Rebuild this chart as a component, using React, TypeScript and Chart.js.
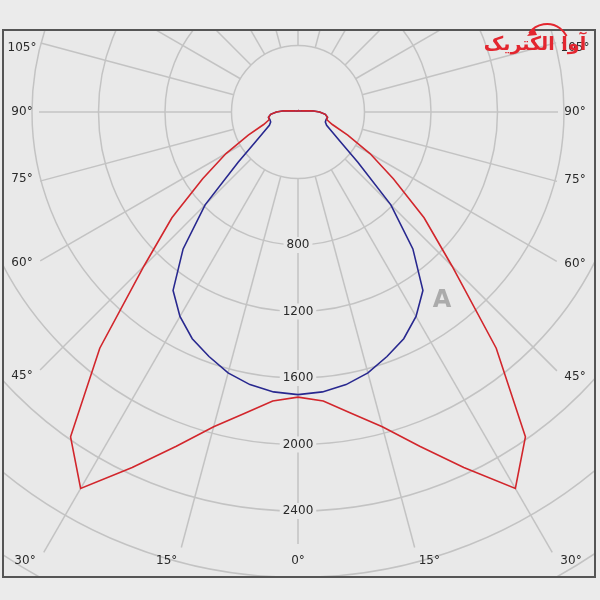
import React, { useEffect, useRef } from "react";
import { Chart, registerables } from "chart.js";

Chart.register(...registerables);

// Gamma angles (degrees, 0 = straight down) and luminous intensities (cd)
const angles = [0, 5, 10, 15, 20, 25, 30, 35, 40, 45, 50, 55, 60, 65, 70, 75, 80, 85, 90, 95, 100, 105, 110, 120, 135, 150, 165, 180];
const planeC0 = [1715, 1745, 1840, 1960, 2140, 2360, 2615, 2385, 1855, 1310, 990, 700, 500, 330, 220, 180, 180, 165, 130, 85, 40, 25, 18, 12, 9, 8, 8, 8];
const planeC90 = [1700, 1690, 1665, 1625, 1565, 1505, 1420, 1310, 1075, 790, 470, 310, 235, 190, 175, 175, 180, 165, 130, 85, 40, 25, 18, 12, 9, 8, 8, 8];

const ringValues = [400, 800, 1200, 1600, 2000, 2400, 2800, 3200, 3600];
const ringLabels = [800, 1200, 1600, 2000, 2400];
const rayAngles = [0, 15, 30, 45, 60, 75, 90, 105, 120, 135, 150, 165, 180];
const rayLabelAngles = [0, 15, 30, 45, 60, 75, 90, 105];

const RED = "#d2262c";
const BLUE = "#28288f";
const BG = "#e9e9e9";
const GRID = "#c3c3c3";
const TEXT = "#2a2a2a";

function toPoints(vals: number[]) {
  const pts: { x: number; y: number }[] = [];
  for (let i = angles.length - 1; i >= 0; i--) {
    const a = (angles[i] * Math.PI) / 180;
    pts.push({ x: -vals[i] * Math.sin(a), y: -vals[i] * Math.cos(a) });
  }
  for (let i = 1; i < angles.length; i++) {
    const a = (angles[i] * Math.PI) / 180;
    pts.push({ x: vals[i] * Math.sin(a), y: -vals[i] * Math.cos(a) });
  }
  return pts;
}

const polarGrid = {
  id: "polarGrid",
  beforeDraw(chart: any) {
    const { ctx, width, height } = chart;
    ctx.save();
    ctx.fillStyle = "#ebebeb";
    ctx.fillRect(0, 0, width, height);
    ctx.restore();
  },
  beforeDatasetsDraw(chart: any) {
    const { ctx, chartArea: area, scales } = chart;
    const sx = scales.x;
    const sy = scales.y;
    const cx = sx.getPixelForValue(0);
    const cy = sy.getPixelForValue(0);
    const k = sx.getPixelForValue(1000) - cx; // px per 1000 cd
    const rpx = (v: number) => (v / 1000) * k;

    ctx.save();
    ctx.fillStyle = BG;
    ctx.fillRect(area.left, area.top, area.right - area.left, area.bottom - area.top);
    ctx.beginPath();
    ctx.rect(area.left, area.top, area.right - area.left, area.bottom - area.top);
    ctx.clip();

    ctx.strokeStyle = GRID;
    ctx.lineWidth = 1.5;
    ringValues.forEach((v) => {
      ctx.beginPath();
      ctx.arc(cx, cy, rpx(v), 0, Math.PI * 2);
      ctx.stroke();
    });

    const box = { l: area.left + 19, r: area.right - 20, b: area.bottom - 16, t: area.top + 18 };
    const hit = (dx: number, dy: number) => {
      let t = Infinity;
      if (dx < -1e-9) t = Math.min(t, (box.l - cx) / dx);
      if (dx > 1e-9) t = Math.min(t, (box.r - cx) / dx);
      if (dy > 1e-9) t = Math.min(t, (box.b - cy) / dy);
      return { x: cx + dx * t, y: Math.max(box.t, cy + dy * t) };
    };

    ctx.font = '12px "DejaVu Sans"';
    ctx.textAlign = "center";
    ctx.textBaseline = "middle";

    const r0 = rpx(ringValues[0]);
    const labels: { x: number; y: number; t: string }[] = [];
    rayAngles.forEach((deg) => {
      const sides = deg === 0 || deg === 180 ? [1] : [-1, 1];
      sides.forEach((s) => {
        const a = (deg * Math.PI) / 180;
        const dx = s * Math.sin(a);
        const dy = Math.cos(a);
        let end = 2000;
        if (rayLabelAngles.includes(deg)) {
          const la = deg > 0 && deg < 90 ? deg + 1.3 : deg;
          const lr = (la * Math.PI) / 180;
          const p = hit(s * Math.sin(lr), Math.cos(lr));
          end = Math.hypot(p.x - cx, p.y - cy) - 17;
          labels.push({ x: p.x, y: p.y, t: deg + "°" });
        }
        ctx.beginPath();
        ctx.moveTo(cx + dx * r0, cy + dy * r0);
        ctx.lineTo(cx + dx * end, cy + dy * end);
        ctx.stroke();
      });
    });

    ctx.fillStyle = TEXT;
    labels.forEach((l) => ctx.fillText(l.t, l.x, l.y));

    ringLabels.forEach((v) => {
      const y = cy + rpx(v);
      const t = String(v);
      const w = ctx.measureText(t).width;
      ctx.fillStyle = BG;
      ctx.fillRect(cx - w / 2 - 3, y - 8, w + 6, 16);
      ctx.fillStyle = TEXT;
      ctx.fillText(t, cx, y);
    });

    // faint watermark
    ctx.fillStyle = "rgba(120,120,120,0.55)";
    ctx.font = 'bold 24px "DejaVu Sans"';
    ctx.fillText("A", cx + 144, cy + 189);
    ctx.restore();
  },
  afterDraw(chart: any) {
    const { ctx, chartArea: area } = chart;
    ctx.save();
    ctx.strokeStyle = "#555";
    ctx.lineWidth = 2;
    ctx.strokeRect(area.left, area.top, area.right - area.left, area.bottom - area.top);

    // logo
    ctx.fillStyle = "#e3262f";
    ctx.font = 'bold 19px "DejaVu Sans"';
    ctx.textAlign = "center";
    ctx.textBaseline = "middle";
    ctx.direction = "rtl";
    ctx.fillText("آوا الکتریک", area.right - 60, area.top + 15);
    ctx.strokeStyle = "#e3262f";
    ctx.lineWidth = 2;
    ctx.beginPath();
    ctx.arc(area.right - 48, area.top + 16, 22, Math.PI * 1.2, Math.PI * 1.85);
    ctx.stroke();
    ctx.beginPath();
    ctx.moveTo(area.right - 68, area.top + 6);
    ctx.lineTo(area.right - 61, area.top - 2);
    ctx.lineTo(area.right - 58, area.top + 5);
    ctx.closePath();
    ctx.fillStyle = "#e3262f";
    ctx.fill();
    ctx.restore();
  },
};

export default function App() {
  const ref = useRef<HTMLCanvasElement | null>(null);
  useEffect(() => {
    if (!ref.current) return;
    const chart = new Chart(ref.current, {
      type: "scatter",
      data: {
        datasets: [
          {
            label: "C0-C180",
            data: toPoints(planeC0),
            showLine: true,
            borderColor: RED,
            borderWidth: 1.6,
            pointRadius: 0,
            tension: 0,
          },
          {
            label: "C90-C270",
            data: toPoints(planeC90),
            showLine: true,
            borderColor: BLUE,
            borderWidth: 1.6,
            pointRadius: 0,
            tension: 0,
          },
        ],
      },
      options: {
        animation: false,
        responsive: false,
        layout: { padding: { left: 3, top: 30, right: 5, bottom: 23 } },
        plugins: { legend: { display: false }, tooltip: { enabled: false } },
        scales: {
          x: { type: "linear", min: -1774.4, max: 1786.5, display: false },
          y: { type: "linear", min: -2797, max: 493.2, display: false },
        },
      },
      plugins: [polarGrid],
    });
    return () => chart.destroy();
  }, []);
  return (
    <div style={{ position: "absolute", left: 0, top: 0, width: 600, height: 600 }}>
      <canvas ref={ref} width={600} height={600} />
    </div>
  );
}
